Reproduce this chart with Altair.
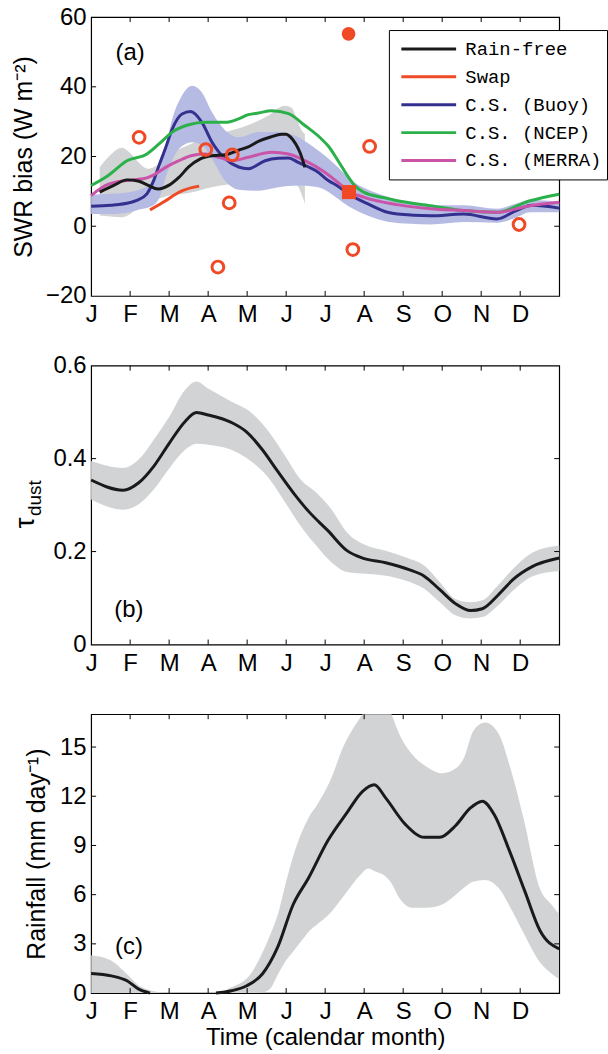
import altair as alt
import pandas as pd

# ---------------- data ----------------
MONTH_LABELS = ["J", "F", "M", "A", "M", "J", "J", "A", "S", "O", "N", "D"]
MONTH_TICKS = list(range(12))

SERIES = ["Rain-free", "Swap", "C.S. (Buoy)", "C.S. (NCEP)", "C.S. (MERRA)"]
COLORS = ["#1a1a1a", "#EF4A25", "#34308F", "#2BB04A", "#C954A8"]

# panel (a) lines (month, value)
RAIN_M = [0.22, 0.58, 0.92, 1.2, 1.45, 1.72, 2.0, 2.25, 2.5, 2.8, 3.1, 3.45, 3.78, 4.03, 4.3, 4.6, 4.88, 5.0, 5.12, 5.25, 5.36, 5.48]
RAIN_V = [9.8, 11.7, 13.3, 13.0, 11.8, 10.7, 11.8, 14.0, 17.0, 19.3, 20.2, 20.5, 21.8, 22.8, 24.4, 25.6, 26.4, 26.4, 25.5, 23.5, 21.0, 16.9]
SWAP_M = [1.51, 1.91, 2.11, 2.34, 2.77]
SWAP_V = [4.7, 7.3, 8.8, 10.2, 11.5]
BUOY_M = [0, 0.5, 1.0, 1.17, 1.43, 1.6, 1.74, 1.91, 2.08, 2.33, 2.55, 2.84, 3.1, 3.44, 3.78, 4.03, 4.46, 4.8, 5.06, 5.31, 5.82, 6.08, 6.33, 6.59, 7.1, 7.6, 7.85, 8.7, 9.55, 10.4, 10.9, 11.3, 12]
BUOY_V = [5.7, 6.0, 6.8, 7.4, 9.3, 13.0, 17.4, 22.5, 27.9, 32.2, 32.9, 29.8, 24.1, 19.3, 17.0, 16.5, 18.8, 19.5, 19.6, 18.3, 15.5, 13.1, 11.5, 9.3, 6.4, 4.0, 3.5, 3.0, 3.5, 2.1, 4.5, 6.0, 5.2]
NCEP_M = [0, 0.43, 0.92, 1.43, 1.74, 2.08, 2.5, 2.93, 3.44, 3.78, 4.03, 4.29, 4.63, 5.06, 5.48, 5.9, 6.08, 6.33, 6.6, 6.77, 7.0, 7.5, 7.85, 8.7, 9.55, 10.4, 11.25, 12]
NCEP_V = [11.7, 14.5, 18.8, 20.7, 23.6, 27.0, 29.1, 29.8, 29.8, 30.8, 32.0, 32.5, 33.1, 32.3, 28.9, 25.1, 23.0, 18.8, 14.0, 11.5, 9.7, 8.2, 7.3, 5.9, 4.5, 4.0, 7.3, 9.2]
MERRA_M = [0, 0.43, 1.06, 1.34, 1.57, 1.91, 2.25, 2.59, 2.93, 3.27, 3.61, 4.03, 4.63, 5.06, 5.48, 5.99, 6.42, 6.58, 7.0, 7.85, 8.7, 9.55, 10.4, 11.25, 12]
MERRA_V = [8.8, 12.0, 13.3, 13.6, 14.5, 16.9, 18.8, 20.3, 20.7, 19.8, 18.8, 19.8, 21.2, 20.7, 18.8, 15.5, 11.7, 10.2, 8.3, 6.2, 5.0, 4.5, 4.0, 5.9, 6.9]

# panel (a) uncertainty bands
GRAY_M = [0.22, 0.5, 0.79, 1.0, 1.2, 1.45, 1.7, 2.0, 2.5, 3.0, 3.5, 4.0, 4.5, 4.97, 5.14, 5.3, 5.4, 5.48]
GRAY_HI = [16.9, 20.5, 22.5, 21.0, 18.5, 16.5, 17.5, 20.5, 23.3, 25.5, 27.2, 28.9, 31.5, 34.6, 34.0, 30.0, 27.5, 26.5]
GRAY_LO = [3.1, 2.8, 2.6, 3.5, 5.5, 7.0, 7.8, 8.8, 9.5, 11.0, 12.0, 12.5, 13.0, 13.0, 12.5, 11.5, 9.0, 6.4]
BLUE_M = [0, 0.5, 1.0, 1.23, 1.5, 1.74, 1.91, 2.08, 2.33, 2.59, 2.84, 3.1, 3.44, 3.78, 4.29, 4.8, 5.31, 5.82, 6.33, 6.6, 7.1, 7.6, 8.2, 8.7, 9.55, 10.4, 10.9, 11.25, 12]
BLUE_HI = [9.0, 9.3, 9.8, 10.5, 12.0, 15.5, 23.0, 30.8, 37.5, 40.3, 38.4, 32.7, 27.5, 25.5, 27.0, 27.0, 25.5, 21.7, 16.9, 13.8, 10.5, 8.5, 6.5, 6.0, 6.0, 5.0, 6.5, 7.5, 7.0]
BLUE_LO = [3.5, 3.5, 4.0, 4.8, 5.5, 7.9, 14.0, 19.0, 23.0, 24.1, 23.2, 19.3, 13.0, 10.5, 10.2, 11.2, 11.7, 11.2, 7.9, 5.7, 3.0, 1.3, 0.7, 0.5, 1.2, 1.0, 2.5, 4.0, 4.0]

# panel (a) single estimates
OPEN_M = [1.23, 2.94, 3.62, 3.54, 3.25, 7.14, 6.71, 10.97]
OPEN_V = [25.5, 22.0, 20.5, 6.7, -11.7, 22.9, -6.7, 0.5]
DOT_M = [6.6]
DOT_V = [55.2]
SQUARE_M = [6.61]
SQUARE_V = [9.8]

# panel (b) dust optical depth
TAU_M = [0, 0.82, 1.22, 1.61, 2.01, 2.41, 2.70, 3.0, 3.59, 3.99, 4.39, 4.78, 5.18, 5.57, 6.07, 6.56, 6.96, 7.55, 8.15, 8.54, 8.94, 9.34, 9.73, 10.03, 10.43, 10.82, 11.32, 12]
TAU_V = [0.354, 0.332, 0.348, 0.384, 0.434, 0.480, 0.499, 0.494, 0.478, 0.457, 0.419, 0.373, 0.327, 0.287, 0.245, 0.202, 0.186, 0.176, 0.161, 0.147, 0.118, 0.088, 0.073, 0.077, 0.106, 0.140, 0.168, 0.186]
TAUB_M = [0, 0.82, 1.22, 1.61, 2.01, 2.41, 2.70, 3.0, 3.59, 4.09, 4.58, 4.98, 5.37, 5.77, 6.16, 6.56, 7.06, 7.55, 8.05, 8.54, 8.94, 9.34, 9.73, 10.03, 10.43, 10.82, 11.32, 12]
TAUB_HI = [0.395, 0.380, 0.398, 0.441, 0.491, 0.548, 0.566, 0.551, 0.523, 0.50, 0.455, 0.405, 0.355, 0.327, 0.291, 0.241, 0.213, 0.202, 0.188, 0.170, 0.134, 0.098, 0.091, 0.095, 0.127, 0.163, 0.198, 0.213]
TAUB_LO = [0.312, 0.290, 0.302, 0.334, 0.380, 0.419, 0.432, 0.430, 0.419, 0.395, 0.355, 0.305, 0.255, 0.213, 0.177, 0.156, 0.152, 0.148, 0.138, 0.120, 0.091, 0.063, 0.056, 0.059, 0.084, 0.116, 0.147, 0.158]

# panel (c) rainfall (two segments: the curve is absent in the dry season)
RAIN1_M = [0, 0.52, 0.92, 1.22, 1.51]
RAIN1_V = [1.2, 1.05, 0.75, 0.24, 0.0]
RAIN2_M = [3.2, 3.6, 3.99, 4.39, 4.78, 5.18, 5.57, 6.07, 6.56, 6.96, 7.26, 7.55, 8.05, 8.54, 8.94, 9.34, 9.73, 10.03, 10.33, 10.72, 11.12, 11.51, 12]
RAIN2_V = [0.0, 0.14, 0.45, 1.16, 2.78, 5.4, 7.0, 9.3, 11.0, 12.3, 12.7, 11.9, 10.3, 9.5, 9.5, 10.2, 11.3, 11.7, 10.9, 8.7, 6.2, 3.8, 2.7]
RAINB_M = [0, 0.5, 0.9, 1.3, 1.8, 2.5, 3.2, 3.6, 4.1, 4.4, 4.6, 4.8, 5.0, 5.2, 5.4, 5.6, 5.8, 6.1, 6.5, 6.9, 7.1, 7.3, 7.5, 7.7, 7.9, 8.25, 8.6, 9.0, 9.35, 9.55, 9.8, 10.1, 10.45, 10.75, 11.1, 11.5, 11.8, 12]
RAINB_HI = [2.3, 2.0, 1.2, 0.35, 0.05, 0, 0, 0.35, 1.2, 2.5, 3.6, 4.9, 6.8, 8.5, 9.8, 10.8, 11.5, 12.8, 15.2, 16.8, 17.5, 18.2, 18.0, 17.0, 15.8, 14.5, 13.8, 13.4, 13.7, 14.3, 16.0, 16.5, 15.8, 13.7, 10.5, 6.4, 5.4, 4.8]
RAINB_LO = [0, 0, 0, 0, 0, 0, 0, 0, 0, 0.05, 0.3, 1.2, 2.0, 2.6, 3.2, 3.8, 4.2, 4.8, 6.0, 7.2, 7.6, 7.4, 7.2, 6.7, 5.8, 5.2, 5.2, 5.4, 6.0, 6.4, 6.8, 6.9, 6.4, 5.2, 3.6, 1.9, 1.2, 0.85]

PANEL_LABELS = ["(a)", "(b)", "(c)"]
PANEL_LABEL_M = [1.0, 0.97, 0.97]
PANEL_LABEL_V = [49.7, 0.075, 2.8]

Y_A_TICKS = [-20, 0, 20, 40, 60]
Y_B_TICKS = [0, 0.2, 0.4, 0.6]
Y_C_TICKS = [0, 3, 6, 9, 12, 15]

# ---------------- style ----------------
W, H = 470, 280
FONT = "Liberation Sans"
RED = COLORS[1]
BAND_GRAY = "#D1D3D4"
BAND_BLUE = "#B6BBE3"
LABEL_EXPR = "[" + ",".join("'%s'" % s for s in MONTH_LABELS) + "][datum.value]"

x_scale = alt.Scale(domain=[0, 12], nice=False, zero=False)


def x_axis(title):
    return alt.Axis(values=MONTH_TICKS, labelExpr=LABEL_EXPR, labelFlush=False,
                    labelOverlap=False, ticks=False, domain=False, grid=False,
                    labelPadding=7, titlePadding=2, titleFontSize=24, title=title)


def y_axis(values, title, fmt, title_pad):
    return alt.Axis(values=values, ticks=False, domain=False, grid=False, format=fmt,
                    labelPadding=5, titlePadding=title_pad, titleFontSize=25, title=title)


def make_panel(ax_x, ys, ax_y, ytick_vals, label_idx, body):
    """Every field encoding in the panel shares the same axis objects."""
    X = lambda f="m": alt.X(f"{f}:Q", scale=x_scale, axis=ax_x)
    Y = lambda f="v": alt.Y(f"{f}:Q", scale=ys, axis=ax_y)
    layers = [fn(X, Y) for fn in body]
    xt = pd.DataFrame({"m": MONTH_TICKS[1:]})
    yt = pd.DataFrame({"v": ytick_vals})
    rule = dict(color="black", strokeWidth=1)
    layers.append(alt.Chart(xt).mark_rule(**rule).encode(x=X(), y=alt.value(H), y2=alt.value(H - 5)))
    layers.append(alt.Chart(xt).mark_rule(**rule).encode(x=X(), y=alt.value(0), y2=alt.value(5)))
    layers.append(alt.Chart(yt).mark_rule(**rule).encode(y=Y(), x=alt.value(0), x2=alt.value(5)))
    layers.append(alt.Chart(yt).mark_rule(**rule).encode(y=Y(), x=alt.value(W), x2=alt.value(W - 5)))
    d = pd.DataFrame({"m": [PANEL_LABEL_M[label_idx]], "v": [PANEL_LABEL_V[label_idx]],
                      "t": [PANEL_LABELS[label_idx]]})
    layers.append(alt.Chart(d).mark_text(font=FONT, fontSize=24, color="black").encode(
        x=X(), y=Y(), text="t:N"))
    return alt.layer(*layers).properties(width=W, height=H)


# ---------------- panel (a) ----------------
ys_a = alt.Scale(domain=[-20, 60], nice=False, zero=False)
draw_order = ["C.S. (Buoy)", "C.S. (NCEP)", "C.S. (MERRA)", "Swap", "Rain-free"]
series_data = {
    "Rain-free": (RAIN_M, RAIN_V), "Swap": (SWAP_M, SWAP_V), "C.S. (Buoy)": (BUOY_M, BUOY_V),
    "C.S. (NCEP)": (NCEP_M, NCEP_V), "C.S. (MERRA)": (MERRA_M, MERRA_V),
}
rows = []
for s in draw_order:
    ms, vs = series_data[s]
    rows += [{"series": s, "m": m, "v": v} for m, v in zip(ms, vs)]
lines_df = pd.DataFrame(rows)

legend = alt.Legend(orient="none", legendX=299, legendY=13, title=None,
                    symbolType="stroke", symbolSize=3025, symbolStrokeWidth=3,
                    labelFont="Liberation Mono", labelFontSize=19, labelColor="black",
                    padding=5, strokeColor="black", fillColor="white",
                    clipHeight=28, rowPadding=0, labelOffset=7.7, symbolOffset=6)

body_a = [
    lambda X, Y: alt.Chart(pd.DataFrame({"m": GRAY_M, "lo": GRAY_LO, "hi": GRAY_HI})).mark_area(
        color=BAND_GRAY, interpolate="monotone").encode(x=X(), y=Y("lo"), y2="hi:Q"),
    lambda X, Y: alt.Chart(pd.DataFrame({"m": BLUE_M, "lo": BLUE_LO, "hi": BLUE_HI})).mark_area(
        color=BAND_BLUE, interpolate="monotone").encode(x=X(), y=Y("lo"), y2="hi:Q"),
    lambda X, Y: alt.Chart(lines_df).mark_line(strokeWidth=3, interpolate="monotone").encode(
        x=X(), y=Y(),
        color=alt.Color("series:N", scale=alt.Scale(domain=SERIES, range=COLORS), legend=legend),
        detail="series:N"),
    lambda X, Y: alt.Chart(pd.DataFrame({"m": OPEN_M, "v": OPEN_V})).mark_point(
        shape="circle", filled=False, color=RED, strokeWidth=3, size=140, opacity=1).encode(x=X(), y=Y()),
    lambda X, Y: alt.Chart(pd.DataFrame({"m": DOT_M, "v": DOT_V})).mark_point(
        shape="circle", filled=True, color=RED, size=190, opacity=1).encode(x=X(), y=Y()),
    lambda X, Y: alt.Chart(pd.DataFrame({"m": SQUARE_M, "v": SQUARE_V})).mark_point(
        shape="square", filled=True, color=RED, size=200, opacity=1).encode(x=X(), y=Y()),
]
panel_a = make_panel(x_axis(None), ys_a,
                     y_axis(Y_A_TICKS, "SWR bias (W m⁻²)", "d", 9),
                     Y_A_TICKS[1:-1], 0, body_a)

# ---------------- panel (b) ----------------
ys_b = alt.Scale(domain=[0, 0.6], nice=False, zero=False)
TITLE_B = ["τ", "dust"]
body_b = [
    lambda X, Y: alt.Chart(pd.DataFrame({"m": TAUB_M, "lo": TAUB_LO, "hi": TAUB_HI})).mark_area(
        color=BAND_GRAY, interpolate="monotone").encode(x=X(), y=Y("lo"), y2="hi:Q"),
    lambda X, Y: alt.Chart(pd.DataFrame({"m": TAU_M, "v": TAU_V})).mark_line(
        color="#1a1a1a", strokeWidth=3, interpolate="monotone").encode(x=X(), y=Y()),
    lambda X, Y: alt.Chart(pd.DataFrame({"t": [TITLE_B[0]]})).mark_text(
        font=FONT, fontSize=27, angle=270, color="black").encode(
        x=alt.value(-65.5), y=alt.value(158), text="t:N"),
    lambda X, Y: alt.Chart(pd.DataFrame({"t": [TITLE_B[1]]})).mark_text(
        font=FONT, fontSize=19, angle=270, color="black").encode(
        x=alt.value(-56), y=alt.value(133), text="t:N"),
]
panel_b = make_panel(x_axis(None), ys_b, y_axis(Y_B_TICKS, None, "~g", 8),
                     Y_B_TICKS[1:-1], 1, body_b)

# ---------------- panel (c) ----------------
ys_c = alt.Scale(domain=[0, 17], nice=False, zero=False)
rain_df = pd.DataFrame(
    [{"seg": 1, "m": m, "v": v} for m, v in zip(RAIN1_M, RAIN1_V)]
    + [{"seg": 2, "m": m, "v": v} for m, v in zip(RAIN2_M, RAIN2_V)])
body_c = [
    lambda X, Y: alt.Chart(pd.DataFrame({"m": RAINB_M, "lo": RAINB_LO, "hi": RAINB_HI})).mark_area(
        color=BAND_GRAY, interpolate="monotone", clip=True).encode(x=X(), y=Y("lo"), y2="hi:Q"),
    lambda X, Y: alt.Chart(rain_df).mark_line(
        color="#1a1a1a", strokeWidth=3, interpolate="monotone").encode(x=X(), y=Y(), detail="seg:N"),
]
panel_c = make_panel(x_axis("Time (calendar month)"), ys_c,
                     y_axis(Y_C_TICKS, "Rainfall (mm day⁻¹)", "d", 10),
                     Y_C_TICKS[1:], 2, body_c)

chart = alt.vconcat(panel_a, panel_b, panel_c, spacing=70, bounds="flush").properties(
    padding={"left": 10.5, "top": 2, "right": 0, "bottom": 0}
).configure(font=FONT).configure_view(stroke="black", strokeWidth=1.2).configure_axis(
    labelFont=FONT, labelFontSize=24, labelColor="black", titleFont=FONT,
    titleFontWeight="normal", titleColor="black")

chart.save("out.html", embed_options={"renderer": "svg", "actions": False})
